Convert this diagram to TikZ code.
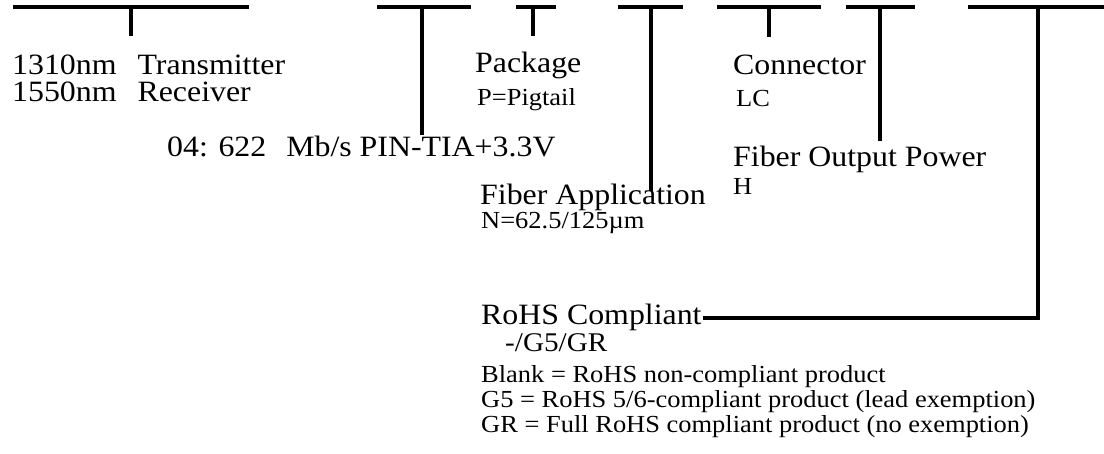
\documentclass[tikz,border=0pt]{standalone}
\usepackage{fontspec}
\setmainfont[FakeStretch=1.08]{Liberation Serif}
\begin{document}
\begin{tikzpicture}[x=1pt,y=-1pt,
  bar/.style={line width=3.6pt},
  stem/.style={line width=3.4pt},
  big/.style={anchor=base west,inner sep=0pt,font=\fontsize{29.5}{34}\selectfont},
  mid/.style={anchor=base west,inner sep=0pt,font=\fontsize{27}{32}\selectfont},
  small/.style={anchor=base west,inner sep=0pt,font=\fontsize{24.5}{29}\selectfont}]
\path[use as bounding box] (0,0) rectangle (1104,454);
% bars
\coordinate (b1l) at (13,7);  \coordinate (b1r) at (249,7);  \coordinate (b1m) at (131,7);  \coordinate (s1) at (131,36);
\coordinate (b2l) at (377,7); \coordinate (b2r) at (471,7);  \coordinate (b2m) at (422,7);  \coordinate (s2) at (422,135);
\coordinate (b3l) at (516,7); \coordinate (b3r) at (556,7);  \coordinate (b3m) at (533,7);  \coordinate (s3) at (533,36);
\coordinate (b4l) at (618,7); \coordinate (b4r) at (683,7);  \coordinate (b4m) at (651,7);  \coordinate (s4) at (651,191);
\coordinate (b5l) at (717,7); \coordinate (b5r) at (821,7);  \coordinate (b5m) at (769,7);  \coordinate (s5) at (769,37);
\coordinate (b6l) at (846,7); \coordinate (b6r) at (915,7);  \coordinate (b6m) at (880,7);  \coordinate (s6) at (880,141);
\coordinate (b7l) at (968,7); \coordinate (b7r) at (1104,7); \coordinate (b7m) at (1038,7); \coordinate (s7) at (1038,318);
\foreach \i in {1,...,7}{\draw[bar] (b\i l) -- (b\i r);}
\foreach \i in {1,...,6}{\draw[stem] (b\i m) -- (s\i);}
% texts
\node[big] (tx) at (12,75) {1310nm\hspace{13pt} Transmitter};
\node[big] (rx) at (12,102) {1550nm\hspace{13pt} Receiver};
\node[big] (pkg) at (475,73) {Package};
\node[small] (pig) at (477,106) {P=Pigtail};
\node[big] (con) at (733,75) {Connector};
\node[small] (lc) at (736,107) {LC};
\node[big] (rate) at (167,157) {04: 622\hspace{12pt} Mb/s PIN-TIA+3.3V};
\node[big] (fop) at (733,167) {Fiber Output Power};
\node[small] (h) at (733,195) {H};
\node[big] (fa) at (480,205) {Fiber Application};
\node[small] (n) at (481,229) {N=62.5/125µm};
\node[big] (rohs) at (481,325) {RoHS Compliant};
\node[mid] (g) at (505,352) {-/G5/GR};
\node[small] (l1) at (481,383) {Blank = RoHS non-compliant product};
\node[small] (l2) at (481,408) {G5 = RoHS 5/6-compliant product (lead exemption)};
\node[small] (l3) at (481,433) {GR = Full RoHS compliant product (no exemption)};
\coordinate (s7e) at ([xshift=1pt]rohs.east |- s7);
\draw[stem] (b7m) -- (s7) -- (s7e);
\end{tikzpicture}
\end{document}
